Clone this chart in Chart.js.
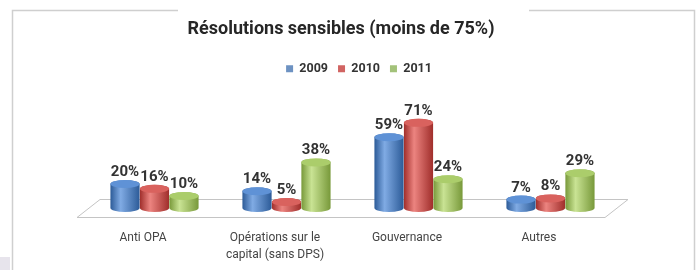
<!DOCTYPE html>
<html lang="fr">
<head>
<meta charset="UTF-8">
<title>Résolutions sensibles</title>
<script src="https://cdn.jsdelivr.net/npm/chart.js"></script>
<style>
  body { margin: 0; background: #fff; }
  #wrap { width: 698px; height: 270px; }
</style>
</head>
<body>
<div id="wrap"><canvas id="chart" width="698" height="270"></canvas></div>
<script>
// data
const categories = ['Anti OPA', ['Opérations sur le', 'capital (sans DPS)'], 'Gouvernance', 'Autres'];
const years = ['2009', '2010', '2011'];
const values2009 = [20, 14, 59, 7];
const values2010 = [16, 5, 71, 8];
const values2011 = [10, 38, 24, 29];

// cylinder shading per series
const shades = [
  { dark: '#2c5b98', light: '#80abe4', top: '#5f92d6', legend: '#6d92c2' },
  { dark: '#a02e2b', light: '#ec8480', top: '#d9625e', legend: '#d16462' },
  { dark: '#78993a', light: '#c9e394', top: '#abcd6b', legend: '#a3c27a' }
];

// 3D depth of the floor (front edge -> back edge)
const depthX = 23, depthY = -18;

function cylinder(ctx, cx, top, bot, w, c) {
  const rx = w / 2, ry = 4;
  const g = ctx.createLinearGradient(cx - rx, 0, cx + rx, 0);
  g.addColorStop(0, c.dark);
  g.addColorStop(0.35, c.light);
  g.addColorStop(1, c.dark);
  ctx.fillStyle = g;
  ctx.beginPath();
  ctx.moveTo(cx - rx, top);
  ctx.lineTo(cx - rx, bot);
  ctx.ellipse(cx, bot, rx, ry, 0, Math.PI, 0, true);
  ctx.lineTo(cx + rx, top);
  ctx.ellipse(cx, top, rx, ry, 0, 0, Math.PI, true);
  ctx.closePath();
  ctx.fill();
  // top cap
  ctx.fillStyle = c.top;
  ctx.beginPath();
  ctx.ellipse(cx, top, rx, ry, 0, 0, Math.PI * 2);
  ctx.fill();
}

const frame = {
  id: 'frame',
  afterLayout(chart) {
    // legend sits a bit right of the title in the original
    chart.legend.left += 18;
    chart.legend.right += 18;
  },
  beforeDraw(chart) {
    const ctx = chart.ctx;
    ctx.save();
    ctx.fillStyle = '#fff';
    ctx.fillRect(0, 0, chart.width, chart.height);
    ctx.strokeStyle = '#cfcfcf';
    ctx.lineWidth = 1.5;
    ctx.beginPath();
    ctx.moveTo(12.5, 270);
    ctx.lineTo(12.5, 10.5);
    ctx.lineTo(178, 10.5);
    ctx.moveTo(529, 10.5);
    ctx.lineTo(694.5, 10.5);
    ctx.lineTo(694.5, 270);
    ctx.stroke();
    ctx.fillStyle = '#e7e4ec';
    ctx.fillRect(0, 257, 10, 13);
    ctx.restore();
  }
};

const cylinders = {
  id: 'cylinders',
  beforeDatasetsDraw(chart) {
    const ctx = chart.ctx;
    const a = chart.chartArea;
    ctx.save();
    // floor plane
    ctx.strokeStyle = '#c4c4c4';
    ctx.lineWidth = 1;
    ctx.fillStyle = '#fff';
    ctx.beginPath();
    ctx.moveTo(a.left, a.bottom + 0.5);
    ctx.lineTo(a.right, a.bottom + 0.5);
    ctx.lineTo(a.right + depthX, a.bottom + depthY + 0.5);
    ctx.lineTo(a.left + depthX, a.bottom + depthY + 0.5);
    ctx.closePath();
    ctx.fill();
    ctx.stroke();

    const labels = [];
    chart.data.datasets.forEach((ds, i) => {
      const meta = chart.getDatasetMeta(i);
      meta.data.forEach((bar, j) => {
        const cx = bar.x + depthX / 2;
        const top = bar.y + depthY / 2;
        const bot = bar.base + depthY / 2;
        cylinder(ctx, cx, top, bot, bar.width, shades[i]);
        labels.push({ x: cx, y: top - 8, text: ds.data[j] + '%' });
      });
    });

    ctx.fillStyle = '#333';
    ctx.font = 'bold 15px Roboto, "DejaVu Sans", sans-serif';
    ctx.textAlign = 'center';
    ctx.textBaseline = 'alphabetic';
    labels.forEach(l => ctx.fillText(l.text, l.x, l.y));
    ctx.restore();
    return false;
  }
};

const seriesValues = [values2009, values2010, values2011];

new Chart(document.getElementById('chart'), {
  type: 'bar',
  data: {
    labels: categories,
    datasets: years.map((y, i) => ({
      label: y,
      data: seriesValues[i],
      backgroundColor: shades[i].legend,
      categoryPercentage: 0.67,
      barPercentage: 0.99
    }))
  },
  options: {
    responsive: false,
    animation: false,
    layout: { padding: { left: 77, right: 93, top: 0, bottom: 0 } },
    plugins: {
      title: {
        display: true,
        text: 'Résolutions sensibles (moins de 75%)',
        color: '#262626',
        font: { family: 'Roboto, "DejaVu Sans", sans-serif', size: 18, weight: 'bold' },
        padding: { top: 19, bottom: 12 }
      },
      legend: {
        display: true,
        labels: {
          color: '#333',
          boxWidth: 7,
          boxHeight: 7,
          padding: 10,
          font: { family: 'Roboto, "DejaVu Sans", sans-serif', size: 12.5, weight: 'bold' }
        }
      },
      tooltip: { enabled: false }
    },
    scales: {
      x: {
        grid: { display: false, drawTicks: false },
        border: { display: false },
        ticks: {
          color: '#444',
          padding: 12,
          maxRotation: 0,
          autoSkip: false,
          font: { family: 'Roboto, "DejaVu Sans", sans-serif', size: 12, lineHeight: 1.42 }
        },
        afterFit(scale) { scale.height = 53; }
      },
      y: {
        display: false,
        min: 0,
        max: 110
      }
    }
  },
  plugins: [frame, cylinders]
});
</script>
</body>
</html>
